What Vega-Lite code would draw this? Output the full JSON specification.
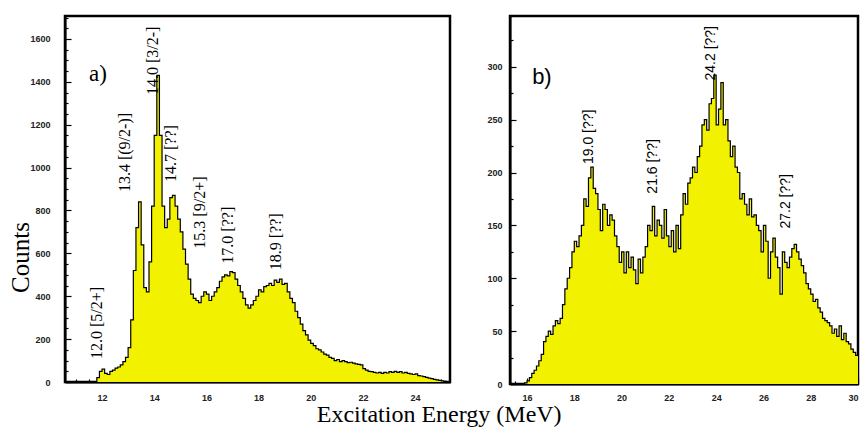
{
  "$schema": "https://vega.github.io/schema/vega-lite/v6.json",
  "background": "white",
  "padding": {"left": 6, "top": 14, "right": 0, "bottom": 2},
  "spacing": 32,
  "title": {"text": "Excitation Energy (MeV)", "orient": "bottom", "anchor": "middle", "font": "Liberation Serif", "fontSize": 24, "fontWeight": "normal", "color": "black", "offset": 0, "dx": 5},
  "config": {
    "view": {"stroke": "black", "strokeWidth": 2.5},
    "axis": {"grid": false, "domainColor": "black", "domainWidth": 2, "tickColor": "black", "tickWidth": 1.2, "labelFont": "Liberation Sans", "labelFontWeight": "bold", "labelFontSize": 9, "labelColor": "#222", "labelOverlap": false, "titleFont": "Liberation Serif", "titleFontWeight": "normal", "titleColor": "black"}
  },
  "datasets": {
    "a": [
      {"E": 10.6, "c": 0}, {"E": 11.7, "c": 0}, {"E": 11.8, "c": 20}, {"E": 11.9, "c": 50}, {"E": 12.0, "c": 60}, {"E": 12.1, "c": 40}, {"E": 12.2, "c": 35}, {"E": 12.3, "c": 50}, {"E": 12.4, "c": 55}, {"E": 12.5, "c": 65}, {"E": 12.6, "c": 70}, {"E": 12.7, "c": 80}, {"E": 12.8, "c": 95}, {"E": 12.9, "c": 115},
      {"E": 13.0, "c": 160}, {"E": 13.1, "c": 290}, {"E": 13.2, "c": 520}, {"E": 13.3, "c": 720}, {"E": 13.4, "c": 840}, {"E": 13.5, "c": 640}, {"E": 13.6, "c": 440}, {"E": 13.7, "c": 420}, {"E": 13.8, "c": 560}, {"E": 13.9, "c": 820},
      {"E": 14.0, "c": 1150}, {"E": 14.1, "c": 1430}, {"E": 14.2, "c": 1150}, {"E": 14.3, "c": 820}, {"E": 14.4, "c": 720}, {"E": 14.5, "c": 760}, {"E": 14.6, "c": 860}, {"E": 14.7, "c": 870}, {"E": 14.8, "c": 820}, {"E": 14.9, "c": 760},
      {"E": 15.0, "c": 700}, {"E": 15.1, "c": 620}, {"E": 15.2, "c": 550}, {"E": 15.3, "c": 480}, {"E": 15.4, "c": 410}, {"E": 15.5, "c": 390}, {"E": 15.6, "c": 380}, {"E": 15.7, "c": 370}, {"E": 15.8, "c": 400}, {"E": 15.9, "c": 420},
      {"E": 16.0, "c": 410}, {"E": 16.1, "c": 380}, {"E": 16.2, "c": 400}, {"E": 16.3, "c": 420}, {"E": 16.4, "c": 440}, {"E": 16.5, "c": 470}, {"E": 16.6, "c": 490}, {"E": 16.7, "c": 500}, {"E": 16.8, "c": 495}, {"E": 16.9, "c": 515},
      {"E": 17.0, "c": 510}, {"E": 17.1, "c": 480}, {"E": 17.2, "c": 450}, {"E": 17.3, "c": 420}, {"E": 17.4, "c": 390}, {"E": 17.5, "c": 360}, {"E": 17.6, "c": 345}, {"E": 17.7, "c": 360}, {"E": 17.8, "c": 380}, {"E": 17.9, "c": 400},
      {"E": 18.0, "c": 430}, {"E": 18.1, "c": 420}, {"E": 18.2, "c": 445}, {"E": 18.3, "c": 450}, {"E": 18.4, "c": 460}, {"E": 18.5, "c": 450}, {"E": 18.6, "c": 475}, {"E": 18.7, "c": 465}, {"E": 18.8, "c": 480}, {"E": 18.9, "c": 455},
      {"E": 19.0, "c": 460}, {"E": 19.1, "c": 420}, {"E": 19.2, "c": 390}, {"E": 19.3, "c": 370}, {"E": 19.4, "c": 330}, {"E": 19.5, "c": 300}, {"E": 19.6, "c": 270}, {"E": 19.7, "c": 240}, {"E": 19.8, "c": 220}, {"E": 19.9, "c": 195},
      {"E": 20.0, "c": 180}, {"E": 20.1, "c": 170}, {"E": 20.2, "c": 155}, {"E": 20.3, "c": 150}, {"E": 20.4, "c": 140}, {"E": 20.5, "c": 130}, {"E": 20.6, "c": 125}, {"E": 20.7, "c": 115}, {"E": 20.8, "c": 110}, {"E": 20.9, "c": 100},
      {"E": 21.0, "c": 105}, {"E": 21.1, "c": 95}, {"E": 21.2, "c": 100}, {"E": 21.3, "c": 95}, {"E": 21.4, "c": 90}, {"E": 21.5, "c": 92}, {"E": 21.6, "c": 88}, {"E": 21.7, "c": 85}, {"E": 21.8, "c": 82}, {"E": 21.9, "c": 80},
      {"E": 22.0, "c": 62}, {"E": 22.1, "c": 55}, {"E": 22.2, "c": 50}, {"E": 22.3, "c": 48}, {"E": 22.4, "c": 45}, {"E": 22.5, "c": 42}, {"E": 22.6, "c": 45}, {"E": 22.7, "c": 40}, {"E": 22.8, "c": 45}, {"E": 22.9, "c": 42},
      {"E": 23.0, "c": 48}, {"E": 23.1, "c": 45}, {"E": 23.2, "c": 50}, {"E": 23.3, "c": 45}, {"E": 23.4, "c": 48}, {"E": 23.5, "c": 42}, {"E": 23.6, "c": 45}, {"E": 23.7, "c": 40}, {"E": 23.8, "c": 38}, {"E": 23.9, "c": 35},
      {"E": 24.0, "c": 38}, {"E": 24.1, "c": 30}, {"E": 24.2, "c": 28}, {"E": 24.3, "c": 25}, {"E": 24.4, "c": 22}, {"E": 24.5, "c": 18}, {"E": 24.6, "c": 16}, {"E": 24.7, "c": 12}, {"E": 24.8, "c": 10}, {"E": 24.9, "c": 8},
      {"E": 25.0, "c": 5}, {"E": 25.1, "c": 3}, {"E": 25.2, "c": 1}, {"E": 25.3, "c": 0}
    ],
    "b": [
      {"E": 15.3, "c": 0}, {"E": 15.8, "c": 0}, {"E": 15.9, "c": 1},
      {"E": 16.0, "c": 3}, {"E": 16.1, "c": 6}, {"E": 16.2, "c": 10}, {"E": 16.3, "c": 13}, {"E": 16.4, "c": 17}, {"E": 16.5, "c": 22}, {"E": 16.6, "c": 28}, {"E": 16.7, "c": 40}, {"E": 16.8, "c": 45}, {"E": 16.9, "c": 50},
      {"E": 17.0, "c": 47}, {"E": 17.1, "c": 55}, {"E": 17.2, "c": 60}, {"E": 17.3, "c": 57}, {"E": 17.4, "c": 62}, {"E": 17.5, "c": 75}, {"E": 17.6, "c": 90}, {"E": 17.7, "c": 100}, {"E": 17.8, "c": 110}, {"E": 17.9, "c": 125},
      {"E": 18.0, "c": 135}, {"E": 18.1, "c": 130}, {"E": 18.2, "c": 140}, {"E": 18.3, "c": 150}, {"E": 18.4, "c": 175}, {"E": 18.5, "c": 168}, {"E": 18.6, "c": 195}, {"E": 18.7, "c": 205}, {"E": 18.8, "c": 185}, {"E": 18.9, "c": 180},
      {"E": 19.0, "c": 165}, {"E": 19.1, "c": 145}, {"E": 19.2, "c": 170}, {"E": 19.3, "c": 165}, {"E": 19.4, "c": 150}, {"E": 19.5, "c": 160}, {"E": 19.6, "c": 155}, {"E": 19.7, "c": 140}, {"E": 19.8, "c": 130}, {"E": 19.9, "c": 115},
      {"E": 20.0, "c": 125}, {"E": 20.1, "c": 105}, {"E": 20.2, "c": 125}, {"E": 20.3, "c": 110}, {"E": 20.4, "c": 120}, {"E": 20.5, "c": 108}, {"E": 20.6, "c": 95}, {"E": 20.7, "c": 118}, {"E": 20.8, "c": 105}, {"E": 20.9, "c": 120},
      {"E": 21.0, "c": 130}, {"E": 21.1, "c": 150}, {"E": 21.2, "c": 145}, {"E": 21.3, "c": 168}, {"E": 21.4, "c": 140}, {"E": 21.5, "c": 155}, {"E": 21.6, "c": 150}, {"E": 21.7, "c": 138}, {"E": 21.8, "c": 165}, {"E": 21.9, "c": 140},
      {"E": 22.0, "c": 130}, {"E": 22.1, "c": 145}, {"E": 22.2, "c": 125}, {"E": 22.3, "c": 150}, {"E": 22.4, "c": 128}, {"E": 22.5, "c": 160}, {"E": 22.6, "c": 180}, {"E": 22.7, "c": 170}, {"E": 22.8, "c": 190}, {"E": 22.9, "c": 195},
      {"E": 23.0, "c": 205}, {"E": 23.1, "c": 200}, {"E": 23.2, "c": 215}, {"E": 23.3, "c": 225}, {"E": 23.4, "c": 245}, {"E": 23.5, "c": 250}, {"E": 23.6, "c": 240}, {"E": 23.7, "c": 265}, {"E": 23.8, "c": 270}, {"E": 23.9, "c": 292},
      {"E": 24.0, "c": 245}, {"E": 24.1, "c": 260}, {"E": 24.2, "c": 285}, {"E": 24.3, "c": 245}, {"E": 24.4, "c": 250}, {"E": 24.5, "c": 230}, {"E": 24.6, "c": 215}, {"E": 24.7, "c": 225}, {"E": 24.8, "c": 205}, {"E": 24.9, "c": 200},
      {"E": 25.0, "c": 175}, {"E": 25.1, "c": 180}, {"E": 25.2, "c": 170}, {"E": 25.3, "c": 160}, {"E": 25.4, "c": 175}, {"E": 25.5, "c": 158}, {"E": 25.6, "c": 160}, {"E": 25.7, "c": 150}, {"E": 25.8, "c": 145}, {"E": 25.9, "c": 125},
      {"E": 26.0, "c": 150}, {"E": 26.1, "c": 135}, {"E": 26.2, "c": 100}, {"E": 26.3, "c": 125}, {"E": 26.4, "c": 138}, {"E": 26.5, "c": 120}, {"E": 26.6, "c": 110}, {"E": 26.7, "c": 85}, {"E": 26.8, "c": 125}, {"E": 26.9, "c": 115},
      {"E": 27.0, "c": 110}, {"E": 27.1, "c": 120}, {"E": 27.2, "c": 128}, {"E": 27.3, "c": 132}, {"E": 27.4, "c": 125}, {"E": 27.5, "c": 118}, {"E": 27.6, "c": 112}, {"E": 27.7, "c": 105}, {"E": 27.8, "c": 95}, {"E": 27.9, "c": 90},
      {"E": 28.0, "c": 85}, {"E": 28.1, "c": 78}, {"E": 28.2, "c": 80}, {"E": 28.3, "c": 72}, {"E": 28.4, "c": 68}, {"E": 28.5, "c": 62}, {"E": 28.6, "c": 60}, {"E": 28.7, "c": 58}, {"E": 28.8, "c": 55}, {"E": 28.9, "c": 48},
      {"E": 29.0, "c": 52}, {"E": 29.1, "c": 45}, {"E": 29.2, "c": 55}, {"E": 29.3, "c": 42}, {"E": 29.4, "c": 48}, {"E": 29.5, "c": 40}, {"E": 29.6, "c": 38}, {"E": 29.7, "c": 33}, {"E": 29.8, "c": 30}, {"E": 29.9, "c": 27}, {"E": 30.0, "c": 27}
    ],
    "la": [
      {"E": 11.8, "c": 107, "t": "12.0 [5/2+]"},
      {"E": 12.87, "c": 886, "t": "13.4 [(9/2-)]"},
      {"E": 13.95, "c": 1338, "t": "14.0 [3/2-]"},
      {"E": 14.65, "c": 933, "t": "14.7 [??]"},
      {"E": 15.74, "c": 622, "t": "15.3 [9/2+]"},
      {"E": 16.83, "c": 552, "t": "17.0 [??]"},
      {"E": 18.68, "c": 521, "t": "18.9 [??]"}
    ],
    "lb": [
      {"E": 18.61, "c": 208, "t": "19.0 [??]"},
      {"E": 21.34, "c": 180, "t": "21.6 [??]"},
      {"E": 23.8, "c": 287, "t": "24.2 [??]"},
      {"E": 26.96, "c": 147, "t": "27.2 [??]"}
    ],
    "pa": [{"E": 11.84, "c": 1436, "t": "a)"}],
    "pb": [{"E": 16.63, "c": 290, "t": "b)"}]
  },
  "hconcat": [
    {
      "width": 385,
      "height": 366,
      "resolve": {"axis": {"x": "independent", "y": "independent"}},
      "layer": [
        {
          "data": {"name": "a"},
          "mark": {"type": "area", "interpolate": "step-after", "color": "#f2f200", "opacity": 1, "fillOpacity": 1, "line": {"color": "black", "strokeWidth": 1.2}},
          "encoding": {
            "x": {"field": "E", "type": "quantitative", "scale": {"domain": [10.58, 25.34], "nice": false, "zero": false},
              "axis": {"title": null, "orient": "bottom", "values": [12, 14, 16, 18, 20, 22, 24], "format": "d", "tickSize": -6, "labelPadding": 17}},
            "y": {"field": "c", "type": "quantitative", "scale": {"domain": [0, 1707], "nice": false},
              "axis": {"title": "Counts", "orient": "left", "titleFontSize": 25, "titleAngle": 270, "titleX": -45, "titleY": 241, "titleAlign": "center", "titleBaseline": "middle",
                "values": [0, 200, 400, 600, 800, 1000, 1200, 1400, 1600], "format": "d", "tickSize": -6, "labelPadding": 21}}
          }
        },
        {
          "data": {"name": "la"},
          "mark": {"type": "text", "angle": 270, "align": "left", "baseline": "middle", "font": "Liberation Serif", "fontSize": 16, "color": "black"},
          "encoding": {
            "x": {"field": "E", "type": "quantitative", "axis": {"title": null, "orient": "bottom", "labels": false, "domain": false, "tickSize": -3, "values": [11, 11.5, 12.5, 13, 13.5, 14.5, 15, 15.5, 16.5, 17, 17.5, 18.5, 19, 19.5, 20.5, 21, 21.5, 22.5, 23, 23.5, 24.5, 25]}},
            "y": {"field": "c", "type": "quantitative", "axis": {"title": null, "orient": "left", "labels": false, "domain": false, "tickSize": -3, "values": [50, 100, 150, 250, 300, 350, 450, 500, 550, 650, 700, 750, 850, 900, 950, 1050, 1100, 1150, 1250, 1300, 1350, 1450, 1500, 1550, 1650, 1700]}},
            "text": {"field": "t"}
          }
        },
        {
          "data": {"name": "pa"},
          "mark": {"type": "text", "align": "center", "baseline": "middle", "font": "Liberation Serif", "fontSize": 23, "color": "black"},
          "encoding": {"x": {"field": "E", "type": "quantitative", "axis": null}, "y": {"field": "c", "type": "quantitative", "axis": null}, "text": {"field": "t"}}
        }
      ]
    },
    {
      "width": 348,
      "height": 368,
      "resolve": {"axis": {"x": "independent", "y": "independent"}},
      "layer": [
        {
          "data": {"name": "b"},
          "mark": {"type": "area", "interpolate": "step-after", "color": "#f2f200", "opacity": 1, "fillOpacity": 1, "line": {"color": "black", "strokeWidth": 1.2}},
          "encoding": {
            "x": {"field": "E", "type": "quantitative", "scale": {"domain": [15.28, 30], "nice": false, "zero": false},
              "axis": {"title": null, "orient": "bottom", "values": [16, 18, 20, 22, 24, 26, 28, 30], "format": "d", "tickSize": -6, "labelPadding": 15}},
            "y": {"field": "c", "type": "quantitative", "scale": {"domain": [0, 348], "nice": false},
              "axis": {"title": null, "orient": "left", "values": [0, 50, 100, 150, 200, 250, 300], "format": "d", "tickSize": -6, "labelPadding": 14}}
          }
        },
        {
          "data": {"name": "lb"},
          "mark": {"type": "text", "angle": 270, "align": "left", "baseline": "middle", "font": "Liberation Sans", "fontSize": 14, "color": "black"},
          "encoding": {
            "x": {"field": "E", "type": "quantitative", "axis": {"title": null, "orient": "bottom", "labels": false, "domain": false, "tickSize": -3, "values": [15.5, 16.5, 17, 17.5, 18.5, 19, 19.5, 20.5, 21, 21.5, 22.5, 23, 23.5, 24.5, 25, 25.5, 26.5, 27, 27.5, 28.5, 29, 29.5]}},
            "y": {"field": "c", "type": "quantitative", "axis": {"title": null, "orient": "left", "labels": false, "domain": false, "tickSize": -3, "values": [25, 75, 125, 175, 225, 275, 325]}},
            "text": {"field": "t"}
          }
        },
        {
          "data": {"name": "pb"},
          "mark": {"type": "text", "align": "center", "baseline": "middle", "font": "Liberation Sans", "fontSize": 22, "color": "black"},
          "encoding": {"x": {"field": "E", "type": "quantitative", "axis": null}, "y": {"field": "c", "type": "quantitative", "axis": null}, "text": {"field": "t"}}
        }
      ]
    }
  ]
}
